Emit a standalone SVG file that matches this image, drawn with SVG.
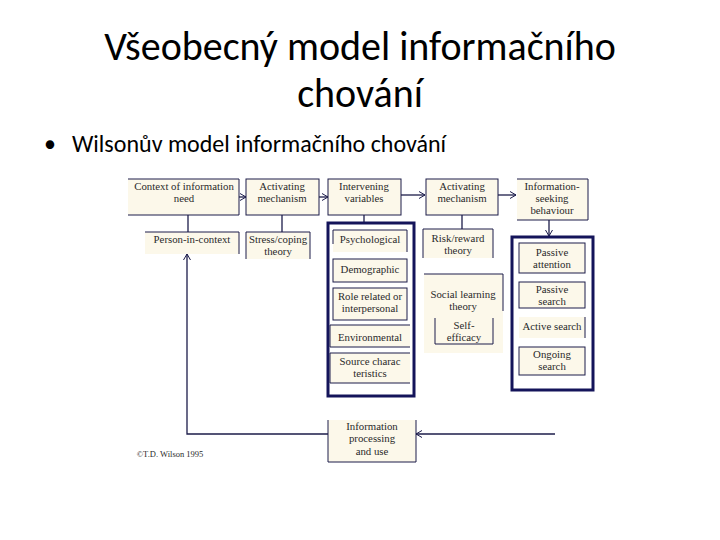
<svg xmlns="http://www.w3.org/2000/svg" width="720" height="540" viewBox="0 0 720 540">
<style>
.title{font-family:Carlito,"Liberation Sans","Noto Sans",sans-serif;font-size:40px;fill:#000;text-anchor:middle}
.bullet{font-family:Carlito,"Liberation Sans","Noto Sans",sans-serif;font-size:24px;fill:#000}
.t{font-family:"Liberation Serif","DejaVu Serif",serif;font-size:10.8px;fill:#2a2a2a;text-anchor:middle}
.box{fill:#fcf8ea;stroke:#1c1c4a;stroke-width:1}
.edge{fill:none;stroke:#1c1c4a;stroke-width:1}
.frame{fill:#ffffff;stroke:#14145a;stroke-width:3}
.ln{fill:none;stroke:#1c1c4a;stroke-width:1.3}
</style>
<defs>
<marker id="ah" markerWidth="8" markerHeight="8" refX="7" refY="4" orient="auto" markerUnits="userSpaceOnUse">
<path d="M1,0.5 L7,4 L1,7.5" fill="none" stroke="#1c1c4a" stroke-width="1"/>
</marker>
</defs>
<rect width="720" height="540" fill="#fff"/>
<text class="title" x="360" y="60">Všeobecný model informačního</text>
<text class="title" x="360" y="107">chování</text>
<text class="bullet" x="44" y="152">•</text>
<text class="bullet" x="72" y="152">Wilsonův model informačního chování</text>

<g id="connectors">
<line class="ln" x1="188" y1="215" x2="188" y2="232"/>
<line class="ln" x1="282" y1="215" x2="282" y2="232"/>
<line class="ln" x1="364" y1="215" x2="364" y2="222"/>
<line class="ln" x1="462" y1="215" x2="462" y2="229"/>
<line class="ln" x1="239" y1="197" x2="246" y2="197" marker-end="url(#ah)"/>
<line class="ln" x1="319" y1="197" x2="328" y2="197" marker-end="url(#ah)"/>
<line class="ln" x1="401" y1="195" x2="425" y2="195" marker-end="url(#ah)"/>
<line class="ln" x1="498" y1="195" x2="516" y2="195" marker-end="url(#ah)"/>
<line class="ln" x1="549" y1="220" x2="549" y2="236" marker-end="url(#ah)"/>
<path class="ln" d="M328,434 L187,434 L187,254" marker-end="url(#ah)"/>
<line class="ln" x1="555" y1="434" x2="416" y2="434" marker-end="url(#ah)"/>
</g>

<g id="context">
<rect x="128" y="179" width="111" height="36" fill="#fcf8ea"/>
<path class="edge" d="M128,179 H239 V215 H128"/>
<text class="t" x="184" y="190">Context of information</text>
<text class="t" x="184" y="202">need</text>
</g>
<g id="activating1">
<rect class="box" x="246" y="179" width="73" height="36"/>
<text class="t" x="282" y="190">Activating</text>
<text class="t" x="282" y="202">mechanism</text>
</g>
<g id="intervening">
<rect class="box" x="328" y="179" width="73" height="36"/>
<text class="t" x="364" y="190">Intervening</text>
<text class="t" x="364" y="202">variables</text>
</g>
<g id="activating2">
<rect class="box" x="426" y="179" width="72" height="36"/>
<text class="t" x="462" y="190">Activating</text>
<text class="t" x="462" y="202">mechanism</text>
</g>
<g id="seeking">
<rect x="517" y="179" width="71" height="41" fill="#fcf8ea"/>
<path class="edge" d="M517,179 H588 V220 H517"/>
<text class="t" x="552" y="190">Information-</text>
<text class="t" x="552" y="202">seeking</text>
<text class="t" x="552" y="214">behaviour</text>
</g>
<g id="person">
<rect x="145" y="232" width="94" height="22" fill="#fcf8ea"/>
<path class="edge" d="M145,232 H239 V254"/>
<text class="t" x="192" y="243">Person-in-context</text>
</g>
<g id="stress">
<rect x="246" y="232" width="64" height="27" fill="#fcf8ea"/>
<path class="edge" d="M246,259 V232 H310 V259"/>
<text class="t" x="278" y="243">Stress/coping</text>
<text class="t" x="278" y="255">theory</text>
</g>
<g id="risk">
<rect x="423" y="229" width="70" height="29" fill="#fcf8ea"/>
<path class="edge" d="M423,258 V229 H493 V258"/>
<text class="t" x="458" y="242">Risk/reward</text>
<text class="t" x="458" y="254">theory</text>
</g>
<g id="social">
<rect x="424" y="274" width="79" height="79" fill="#fcf8ea"/>
<path class="edge" d="M424,274 H503 V311"/>
<text class="t" x="463" y="298">Social learning</text>
<text class="t" x="463" y="310">theory</text>
</g>
<g id="selfefficacy">
<rect x="435" y="318" width="58" height="26" fill="#fcf8ea"/>
<path class="edge" d="M435,318 V344 H493 V318"/>
<text class="t" x="464" y="329">Self-</text>
<text class="t" x="464" y="341">efficacy</text>
</g>

<g id="intervening-group">
<rect class="frame" x="328" y="223" width="86" height="173"/>
</g>
<g id="psychological">
<rect x="333" y="230" width="74" height="22" fill="#fcf8ea"/>
<path class="edge" d="M333,244 V230 H407 V252"/>
<text class="t" x="370" y="243">Psychological</text>
</g>
<g id="demographic">
<rect class="box" x="333" y="259" width="74" height="23"/>
<text class="t" x="370" y="273">Demographic</text>
</g>
<g id="role">
<rect class="box" x="333" y="288" width="74" height="32"/>
<text class="t" x="370" y="300">Role related or</text>
<text class="t" x="370" y="312">interpersonal</text>
</g>
<g id="environmental">
<rect x="330" y="325" width="80" height="22" fill="#fcf8ea"/>
<path class="edge" d="M330,347 V325 H410 M330,347 H410"/>
<text class="t" x="370" y="341">Environmental</text>
</g>
<g id="source">
<rect x="330" y="353" width="80" height="30" fill="#fcf8ea"/>
<path class="edge" d="M330,353 H410 M330,353 V383 H410"/>
<text class="t" x="370" y="365">Source charac</text>
<text class="t" x="370" y="377">teristics</text>
</g>

<g id="seeking-group">
<rect class="frame" x="512" y="237" width="81" height="153"/>
</g>
<g id="passive-attention">
<rect class="box" x="519" y="243" width="66" height="30"/>
<text class="t" x="552" y="256">Passive</text>
<text class="t" x="552" y="268">attention</text>
</g>
<g id="passive-search">
<rect class="box" x="519" y="282" width="66" height="26"/>
<text class="t" x="552" y="293">Passive</text>
<text class="t" x="552" y="305">search</text>
</g>
<g id="active-search">
<rect x="519" y="317" width="66" height="21" fill="#fcf8ea"/>
<path class="edge" d="M585,317 V338"/>
<text class="t" x="552" y="330">Active search</text>
</g>
<g id="ongoing-search">
<rect class="box" x="519" y="347" width="66" height="28"/>
<text class="t" x="552" y="358">Ongoing</text>
<text class="t" x="552" y="370">search</text>
</g>

<g id="processing">
<rect x="328" y="420" width="88" height="42" fill="#fcf8ea"/>
<path class="edge" d="M328,420 V462 H416 V420"/>
<text class="t" x="372" y="430">Information</text>
<text class="t" x="372" y="442">processing</text>
<text class="t" x="372" y="455">and use</text>
</g>
<text class="t" x="170" y="457" style="font-size:8.5px">©T.D. Wilson 1995</text>
</svg>
